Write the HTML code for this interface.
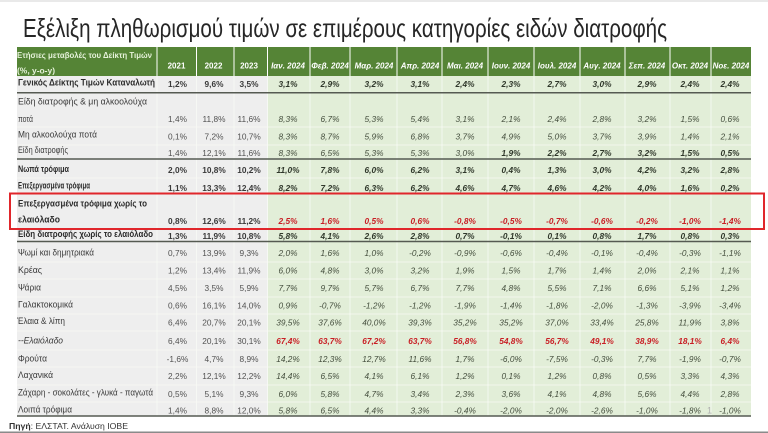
<!DOCTYPE html>
<html><head><meta charset="utf-8">
<style>
html,body{margin:0;padding:0;background:#fff;width:768px;height:433px;overflow:hidden}
svg{display:block}
text{font-family:"Liberation Sans","Noto Sans CJK SC",sans-serif}
.l{font-size:9px;fill:#3a3a3a}
.lb{font-size:9px;fill:#2b2b2b;font-weight:bold}
.li{font-size:9px;fill:#3a3a3a;font-style:italic}
.y{font-size:8.3px;fill:#525252;text-anchor:middle}
.yb{font-size:8.3px;fill:#3a3a3a;text-anchor:middle;font-weight:bold}
.m{font-size:8.3px;fill:#434d3c;text-anchor:middle;font-style:italic}
.mb{font-size:8.3px;fill:#2f372a;text-anchor:middle;font-style:italic;font-weight:bold}
.r{font-size:8.3px;fill:#c81e24;text-anchor:middle;font-style:italic;font-weight:bold}
.h{font-size:8px;fill:#ffffff;text-anchor:middle;font-weight:bold}
.hm{font-size:8px;fill:#ffffff;text-anchor:middle;font-weight:bold;font-style:italic}
.hl{font-size:8px;fill:#e6f2da;font-weight:bold}
</style></head><body>
<svg width="768" height="433" viewBox="0 0 768 433" xmlns="http://www.w3.org/2000/svg">
<rect x="0" y="0" width="768" height="433" fill="#ffffff"/>
<rect x="0" y="0" width="768" height="2" fill="#e9e9e9"/>
<text x="23" y="37" font-size="26" fill="#262626" textLength="644" lengthAdjust="spacingAndGlyphs">Εξέλιξη πληθωρισμού τιμών σε επιμέρους κατηγορίες ειδών διατροφής</text>

<!-- backgrounds -->
<rect x="17" y="76" width="251" height="340" fill="#eeeeee"/>
<rect x="268" y="76" width="483" height="340" fill="#e2eed8"/>
<!-- header -->
<rect x="17" y="47" width="734" height="29" fill="#558436"/>
<g stroke="#ffffff" stroke-width="1">
<line x1="157" y1="47" x2="157" y2="76"/><line x1="196.5" y1="47" x2="196.5" y2="76"/><line x1="234" y1="47" x2="234" y2="76"/><line x1="267.5" y1="47" x2="267.5" y2="76"/><line x1="310" y1="47" x2="310" y2="76"/><line x1="350" y1="47" x2="350" y2="76"/><line x1="397" y1="47" x2="397" y2="76"/><line x1="442" y1="47" x2="442" y2="76"/><line x1="488" y1="47" x2="488" y2="76"/><line x1="534" y1="47" x2="534" y2="76"/><line x1="580" y1="47" x2="580" y2="76"/><line x1="625" y1="47" x2="625" y2="76"/><line x1="670" y1="47" x2="670" y2="76"/><line x1="711" y1="47" x2="711" y2="76"/>
</g>
<!-- body gridlines -->
<g stroke="#f8faf5" stroke-width="0.8">
<line x1="157" y1="76" x2="157" y2="416"/><line x1="196.5" y1="76" x2="196.5" y2="416"/><line x1="234" y1="76" x2="234" y2="416"/><line x1="267.5" y1="76" x2="267.5" y2="416"/><line x1="310" y1="76" x2="310" y2="416"/><line x1="350" y1="76" x2="350" y2="416"/><line x1="397" y1="76" x2="397" y2="416"/><line x1="442" y1="76" x2="442" y2="416"/><line x1="488" y1="76" x2="488" y2="416"/><line x1="534" y1="76" x2="534" y2="416"/><line x1="580" y1="76" x2="580" y2="416"/><line x1="625" y1="76" x2="625" y2="416"/><line x1="670" y1="76" x2="670" y2="416"/><line x1="711" y1="76" x2="711" y2="416"/>
<line x1="17" y1="127" x2="751" y2="127"/><line x1="17" y1="145" x2="751" y2="145"/><line x1="17" y1="178" x2="751" y2="178"/><line x1="17" y1="194" x2="751" y2="194"/><line x1="17" y1="262" x2="751" y2="262"/><line x1="17" y1="279" x2="751" y2="279"/><line x1="17" y1="297" x2="751" y2="297"/><line x1="17" y1="314" x2="751" y2="314"/><line x1="17" y1="331" x2="751" y2="331"/><line x1="17" y1="350" x2="751" y2="350"/><line x1="17" y1="367" x2="751" y2="367"/><line x1="17" y1="385" x2="751" y2="385"/><line x1="17" y1="402" x2="751" y2="402"/>
</g>
<!-- dark rules -->
<g stroke="#555a52" stroke-width="1.5">
<line x1="17" y1="92.7" x2="751" y2="92.7"/>
<line x1="17" y1="159" x2="751" y2="159"/>
<line x1="17" y1="241.5" x2="751" y2="241.5"/>
<line x1="17" y1="416" x2="751" y2="416"/>
</g>

<!-- header text -->
<text class="hl" x="17" y="58" textLength="135" lengthAdjust="spacingAndGlyphs">Ετήσιες μεταβολές του Δείκτη Τιμών</text>
<text class="hl" x="17" y="73.5" textLength="38" lengthAdjust="spacingAndGlyphs">(%, y-o-y)</text>
<text class="h" x="176.5" y="68.5">2021</text>
<text class="h" x="213.5" y="68.5">2022</text>
<text class="h" x="249" y="68.5">2023</text>
<text class="hm" x="288" y="68.5">Ιαν. 2024</text>
<text class="hm" x="330" y="68.5">Φεβ. 2024</text>
<text class="hm" x="374" y="68.5">Μαρ. 2024</text>
<text class="hm" x="420" y="68.5">Απρ. 2024</text>
<text class="hm" x="465" y="68.5">Μαι. 2024</text>
<text class="hm" x="511" y="68.5">Ιουν. 2024</text>
<text class="hm" x="557" y="68.5">Ιουλ. 2024</text>
<text class="hm" x="602" y="68.5">Αυγ. 2024</text>
<text class="hm" x="647" y="68.5">Σεπ. 2024</text>
<text class="hm" x="690" y="68.5">Οκτ. 2024</text>
<text class="hm" x="731" y="68.5">Νοε. 2024</text>

<!-- row 1 -->
<text class="lb" x="18" y="85.5" textLength="137" lengthAdjust="spacingAndGlyphs">Γενικός Δείκτης Τιμών Καταναλωτή</text>
<text class="yb" x="177.5" y="87">1,2%</text><text class="yb" x="214" y="87">9,6%</text><text class="yb" x="249" y="87">3,5%</text>
<text class="mb" x="288" y="87">3,1%</text><text class="mb" x="330" y="87">2,9%</text><text class="mb" x="374" y="87">3,2%</text><text class="mb" x="420" y="87">3,1%</text><text class="mb" x="465" y="87">2,4%</text><text class="mb" x="511" y="87">2,3%</text><text class="mb" x="557" y="87">2,7%</text><text class="mb" x="602" y="87">3,0%</text><text class="mb" x="647" y="87">2,9%</text><text class="mb" x="690" y="87">2,4%</text><text class="mb" x="730" y="87">2,4%</text>

<!-- row 2 -->
<text class="l" x="18" y="104.7" textLength="129" lengthAdjust="spacingAndGlyphs">Είδη διατροφής &amp; μη αλκοολούχα</text>
<text class="l" x="18" y="122" textLength="15" lengthAdjust="spacingAndGlyphs">ποτά</text>
<text class="y" x="177.5" y="122">1,4%</text><text class="y" x="214" y="122">11,8%</text><text class="y" x="249" y="122">11,6%</text>
<text class="m" x="288" y="122">8,3%</text><text class="m" x="330" y="122">6,7%</text><text class="m" x="374" y="122">5,3%</text><text class="m" x="420" y="122">5,4%</text><text class="m" x="465" y="122">3,1%</text><text class="m" x="511" y="122">2,1%</text><text class="m" x="557" y="122">2,4%</text><text class="m" x="602" y="122">2,8%</text><text class="m" x="647" y="122">3,2%</text><text class="m" x="690" y="122">1,5%</text><text class="m" x="730" y="122">0,6%</text>

<!-- row 3 -->
<text class="l" x="18" y="137.5" textLength="79" lengthAdjust="spacingAndGlyphs">Μη αλκοολούχα ποτά</text>
<text class="y" x="177.5" y="139.5">0,1%</text><text class="y" x="214" y="139.5">7,2%</text><text class="y" x="249" y="139.5">10,7%</text>
<text class="m" x="288" y="139.5">8,3%</text><text class="m" x="330" y="139.5">8,7%</text><text class="m" x="374" y="139.5">5,9%</text><text class="m" x="420" y="139.5">6,8%</text><text class="m" x="465" y="139.5">3,7%</text><text class="m" x="511" y="139.5">4,9%</text><text class="m" x="557" y="139.5">5,0%</text><text class="m" x="602" y="139.5">3,7%</text><text class="m" x="647" y="139.5">3,9%</text><text class="m" x="690" y="139.5">1,4%</text><text class="m" x="730" y="139.5">2,1%</text>

<!-- row 4 -->
<text class="l" x="18" y="153" textLength="50" lengthAdjust="spacingAndGlyphs">Είδη διατροφής</text>
<text class="y" x="177.5" y="156">1,4%</text><text class="y" x="214" y="156">12,1%</text><text class="y" x="249" y="156">11,6%</text>
<text class="m" x="288" y="156">8,3%</text><text class="m" x="330" y="156">6,5%</text><text class="m" x="374" y="156">5,3%</text><text class="m" x="420" y="156">5,3%</text><text class="m" x="465" y="156">3,0%</text><text class="mb" x="511" y="156">1,9%</text><text class="mb" x="557" y="156">2,2%</text><text class="mb" x="602" y="156">2,7%</text><text class="mb" x="647" y="156">3,2%</text><text class="mb" x="690" y="156">1,5%</text><text class="mb" x="730" y="156">0,5%</text>

<!-- row 5 -->
<text class="lb" x="18" y="172" textLength="51" lengthAdjust="spacingAndGlyphs">Νωπά τρόφιμα</text>
<text class="yb" x="177.5" y="173">2,0%</text><text class="yb" x="214" y="173">10,8%</text><text class="yb" x="249" y="173">10,2%</text>
<text class="mb" x="288" y="173">11,0%</text><text class="mb" x="330" y="173">7,8%</text><text class="mb" x="374" y="173">6,0%</text><text class="mb" x="420" y="173">6,2%</text><text class="mb" x="465" y="173">3,1%</text><text class="mb" x="511" y="173">0,4%</text><text class="mb" x="557" y="173">1,3%</text><text class="mb" x="602" y="173">3,0%</text><text class="mb" x="647" y="173">4,2%</text><text class="mb" x="690" y="173">3,2%</text><text class="mb" x="730" y="173">2,8%</text>

<!-- row 6 -->
<text class="lb" x="18" y="188.7" textLength="72" lengthAdjust="spacingAndGlyphs">Επεξεργασμένα τρόφιμα</text>
<text class="yb" x="177.5" y="191">1,1%</text><text class="yb" x="214" y="191">13,3%</text><text class="yb" x="249" y="191">12,4%</text>
<text class="mb" x="288" y="191">8,2%</text><text class="mb" x="330" y="191">7,2%</text><text class="mb" x="374" y="191">6,3%</text><text class="mb" x="420" y="191">6,2%</text><text class="mb" x="465" y="191">4,6%</text><text class="mb" x="511" y="191">4,7%</text><text class="mb" x="557" y="191">4,6%</text><text class="mb" x="602" y="191">4,2%</text><text class="mb" x="647" y="191">4,0%</text><text class="mb" x="690" y="191">1,6%</text><text class="mb" x="730" y="191">0,2%</text>

<!-- row 7 -->
<text class="lb" x="18" y="206.5" textLength="129" lengthAdjust="spacingAndGlyphs">Επεξεργασμένα τρόφιμα χωρίς το</text>
<text class="lb" x="18" y="222.5" textLength="42" lengthAdjust="spacingAndGlyphs">ελαιόλαδο</text>
<text class="yb" x="177.5" y="224">0,8%</text><text class="yb" x="214" y="224">12,6%</text><text class="yb" x="249" y="224">11,2%</text>
<text class="r" x="288" y="224">2,5%</text><text class="r" x="330" y="224">1,6%</text><text class="r" x="374" y="224">0,5%</text><text class="r" x="420" y="224">0,6%</text><text class="r" x="465" y="224">-0,8%</text><text class="r" x="511" y="224">-0,5%</text><text class="r" x="557" y="224">-0,7%</text><text class="r" x="602" y="224">-0,6%</text><text class="r" x="647" y="224">-0,2%</text><text class="r" x="690" y="224">-1,0%</text><text class="r" x="730" y="224">-1,4%</text>

<!-- row 8 -->
<text class="lb" x="18" y="237" textLength="135" lengthAdjust="spacingAndGlyphs">Είδη διατροφής χωρίς το ελαιόλαδο</text>
<text class="yb" x="177.5" y="239">1,3%</text><text class="yb" x="214" y="239">11,9%</text><text class="yb" x="249" y="239">10,8%</text>
<text class="mb" x="288" y="239">5,8%</text><text class="mb" x="330" y="239">4,1%</text><text class="mb" x="374" y="239">2,6%</text><text class="mb" x="420" y="239">2,8%</text><text class="mb" x="465" y="239">0,7%</text><text class="mb" x="511" y="239">-0,1%</text><text class="mb" x="557" y="239">0,1%</text><text class="mb" x="602" y="239">0,8%</text><text class="mb" x="647" y="239">1,7%</text><text class="mb" x="690" y="239">0,8%</text><text class="mb" x="730" y="239">0,3%</text>

<!-- row 9 -->
<text class="l" x="18" y="255.7" textLength="76" lengthAdjust="spacingAndGlyphs">Ψωμί και δημητριακά</text>
<text class="y" x="177.5" y="256">0,7%</text><text class="y" x="214" y="256">13,9%</text><text class="y" x="249" y="256">9,3%</text>
<text class="m" x="288" y="256">2,0%</text><text class="m" x="330" y="256">1,6%</text><text class="m" x="374" y="256">1,0%</text><text class="m" x="420" y="256">-0,2%</text><text class="m" x="465" y="256">-0,9%</text><text class="m" x="511" y="256">-0,6%</text><text class="m" x="557" y="256">-0,4%</text><text class="m" x="602" y="256">-0,1%</text><text class="m" x="647" y="256">-0,4%</text><text class="m" x="690" y="256">-0,3%</text><text class="m" x="730" y="256">-1,1%</text>

<!-- row 10 -->
<text class="l" x="18" y="273" textLength="24" lengthAdjust="spacingAndGlyphs">Κρέας</text>
<text class="y" x="177.5" y="273.5">1,2%</text><text class="y" x="214" y="273.5">13,4%</text><text class="y" x="249" y="273.5">11,9%</text>
<text class="m" x="288" y="273.5">6,0%</text><text class="m" x="330" y="273.5">4,8%</text><text class="m" x="374" y="273.5">3,0%</text><text class="m" x="420" y="273.5">3,2%</text><text class="m" x="465" y="273.5">1,9%</text><text class="m" x="511" y="273.5">1,5%</text><text class="m" x="557" y="273.5">1,7%</text><text class="m" x="602" y="273.5">1,4%</text><text class="m" x="647" y="273.5">2,0%</text><text class="m" x="690" y="273.5">2,1%</text><text class="m" x="730" y="273.5">1,1%</text>

<!-- row 11 -->
<text class="l" x="18" y="290.3" textLength="23" lengthAdjust="spacingAndGlyphs">Ψάρια</text>
<text class="y" x="177.5" y="291">4,5%</text><text class="y" x="214" y="291">3,5%</text><text class="y" x="249" y="291">5,9%</text>
<text class="m" x="288" y="291">7,7%</text><text class="m" x="330" y="291">9,7%</text><text class="m" x="374" y="291">5,7%</text><text class="m" x="420" y="291">6,7%</text><text class="m" x="465" y="291">7,7%</text><text class="m" x="511" y="291">4,8%</text><text class="m" x="557" y="291">5,5%</text><text class="m" x="602" y="291">7,1%</text><text class="m" x="647" y="291">6,6%</text><text class="m" x="690" y="291">5,1%</text><text class="m" x="730" y="291">1,2%</text>

<!-- row 12 -->
<text class="l" x="18" y="307.3" textLength="55" lengthAdjust="spacingAndGlyphs">Γαλακτοκομικά</text>
<text class="y" x="177.5" y="308.5">0,6%</text><text class="y" x="214" y="308.5">16,1%</text><text class="y" x="249" y="308.5">14,0%</text>
<text class="m" x="288" y="308.5">0,9%</text><text class="m" x="330" y="308.5">-0,7%</text><text class="m" x="374" y="308.5">-1,2%</text><text class="m" x="420" y="308.5">-1,2%</text><text class="m" x="465" y="308.5">-1,9%</text><text class="m" x="511" y="308.5">-1,4%</text><text class="m" x="557" y="308.5">-1,8%</text><text class="m" x="602" y="308.5">-2,0%</text><text class="m" x="647" y="308.5">-1,3%</text><text class="m" x="690" y="308.5">-3,9%</text><text class="m" x="730" y="308.5">-3,4%</text>

<!-- row 13 -->
<text class="l" x="17" y="324" textLength="48" lengthAdjust="spacingAndGlyphs">Έλαια &amp; λίπη</text>
<text class="y" x="177.5" y="325.5">6,4%</text><text class="y" x="214" y="325.5">20,7%</text><text class="y" x="249" y="325.5">20,1%</text>
<text class="m" x="288" y="325.5">39,5%</text><text class="m" x="330" y="325.5">37,6%</text><text class="m" x="374" y="325.5">40,0%</text><text class="m" x="420" y="325.5">39,3%</text><text class="m" x="465" y="325.5">35,2%</text><text class="m" x="511" y="325.5">35,2%</text><text class="m" x="557" y="325.5">37,0%</text><text class="m" x="602" y="325.5">33,4%</text><text class="m" x="647" y="325.5">25,8%</text><text class="m" x="690" y="325.5">11,9%</text><text class="m" x="730" y="325.5">3,8%</text>

<!-- row 14 -->
<text class="li" x="18" y="343.7" textLength="45" lengthAdjust="spacingAndGlyphs">--Ελαιόλαδο</text>
<text class="y" x="177.5" y="344">6,4%</text><text class="y" x="214" y="344">20,1%</text><text class="y" x="249" y="344">30,1%</text>
<text class="r" x="288" y="344">67,4%</text><text class="r" x="330" y="344">63,7%</text><text class="r" x="374" y="344">67,2%</text><text class="r" x="420" y="344">63,7%</text><text class="r" x="465" y="344">56,8%</text><text class="r" x="511" y="344">54,8%</text><text class="r" x="557" y="344">56,7%</text><text class="r" x="602" y="344">49,1%</text><text class="r" x="647" y="344">38,9%</text><text class="r" x="690" y="344">18,1%</text><text class="r" x="730" y="344">6,4%</text>

<!-- row 15 -->
<text class="l" x="18" y="361.3" textLength="29" lengthAdjust="spacingAndGlyphs">Φρούτα</text>
<text class="y" x="177.5" y="362">-1,6%</text><text class="y" x="214" y="362">4,7%</text><text class="y" x="249" y="362">8,9%</text>
<text class="m" x="288" y="362">14,2%</text><text class="m" x="330" y="362">12,3%</text><text class="m" x="374" y="362">12,7%</text><text class="m" x="420" y="362">11,6%</text><text class="m" x="465" y="362">1,7%</text><text class="m" x="511" y="362">-6,0%</text><text class="m" x="557" y="362">-7,5%</text><text class="m" x="602" y="362">-0,3%</text><text class="m" x="647" y="362">7,7%</text><text class="m" x="690" y="362">-1,9%</text><text class="m" x="730" y="362">-0,7%</text>

<!-- row 16 -->
<text class="l" x="18" y="378" textLength="35" lengthAdjust="spacingAndGlyphs">Λαχανικά</text>
<text class="y" x="177.5" y="379">2,2%</text><text class="y" x="214" y="379">12,1%</text><text class="y" x="249" y="379">12,2%</text>
<text class="m" x="288" y="379">14,4%</text><text class="m" x="330" y="379">6,5%</text><text class="m" x="374" y="379">4,1%</text><text class="m" x="420" y="379">6,1%</text><text class="m" x="465" y="379">1,2%</text><text class="m" x="511" y="379">0,1%</text><text class="m" x="557" y="379">1,2%</text><text class="m" x="602" y="379">0,8%</text><text class="m" x="647" y="379">0,5%</text><text class="m" x="690" y="379">3,3%</text><text class="m" x="730" y="379">4,3%</text>

<!-- row 17 -->
<text class="l" x="18" y="395.7" textLength="135" lengthAdjust="spacingAndGlyphs">Ζάχαρη - σοκολάτες - γλυκά - παγωτά</text>
<text class="y" x="177.5" y="397">0,5%</text><text class="y" x="214" y="397">5,1%</text><text class="y" x="249" y="397">9,3%</text>
<text class="m" x="288" y="397">6,0%</text><text class="m" x="330" y="397">5,8%</text><text class="m" x="374" y="397">4,7%</text><text class="m" x="420" y="397">3,4%</text><text class="m" x="465" y="397">2,3%</text><text class="m" x="511" y="397">3,6%</text><text class="m" x="557" y="397">4,1%</text><text class="m" x="602" y="397">4,8%</text><text class="m" x="647" y="397">5,6%</text><text class="m" x="690" y="397">4,4%</text><text class="m" x="730" y="397">2,8%</text>

<!-- row 18 -->
<text class="l" x="18" y="412.3" textLength="54" lengthAdjust="spacingAndGlyphs">Λοιπά τρόφιμα</text>
<text class="y" x="177.5" y="413.5">1,4%</text><text class="y" x="214" y="413.5">8,8%</text><text class="y" x="249" y="413.5">12,0%</text>
<text class="m" x="288" y="413.5">5,8%</text><text class="m" x="330" y="413.5">6,5%</text><text class="m" x="374" y="413.5">4,4%</text><text class="m" x="420" y="413.5">3,3%</text><text class="m" x="465" y="413.5">-0,4%</text><text class="m" x="511" y="413.5">-2,0%</text><text class="m" x="557" y="413.5">-2,0%</text><text class="m" x="602" y="413.5">-2,6%</text><text class="m" x="647" y="413.5">-1,0%</text><text class="m" x="690" y="413.5">-1,8%</text><text class="m" x="730" y="413.5">-1,0%</text>
<text x="707" y="413.5" font-size="9" fill="#b0b0b0">1</text>

<!-- red highlight box -->
<rect x="10" y="193.5" width="754" height="35.5" fill="none" stroke="#e0262b" stroke-width="2"/>

<!-- source -->
<text x="9" y="429" font-size="8.5" fill="#333333" textLength="119" lengthAdjust="spacingAndGlyphs"><tspan font-weight="bold">Πηγή</tspan>: ΕΛΣΤΑΤ. Ανάλυση ΙΟΒΕ</text>
<rect x="0" y="431.5" width="768" height="1.5" fill="#8a8a8a"/>
</svg>
</body></html>
